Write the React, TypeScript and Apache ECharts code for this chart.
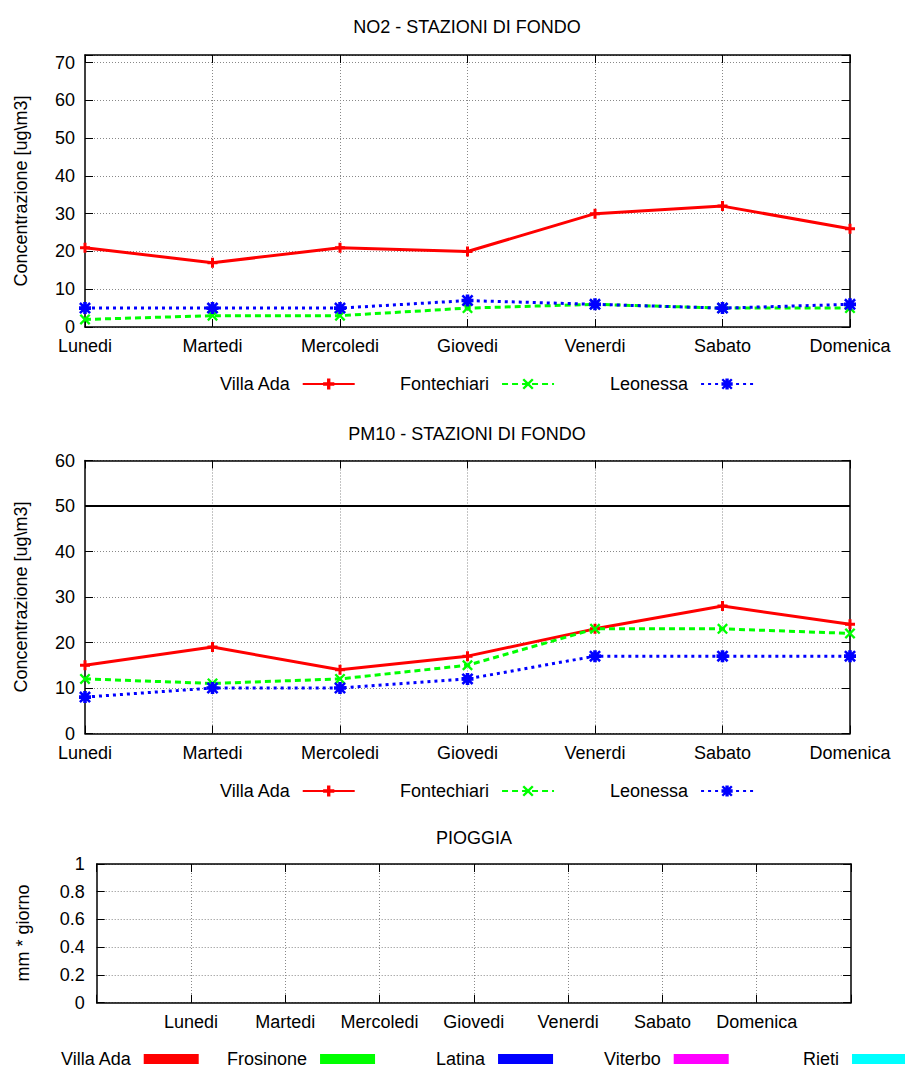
import React, { useEffect, useRef } from "react";
import * as echarts from "echarts";

const days = ["Lunedi", "Martedi", "Mercoledi", "Giovedi", "Venerdi", "Sabato", "Domenica"];

const no2VillaAda = [21, 17, 21, 20, 30, 32, 26];
const no2Fontechiari = [2, 3, 3, 5, 6, 5, 5];
const no2Leonessa = [5, 5, 5, 7, 6, 5, 6];

const pm10VillaAda = [15, 19, 14, 17, 23, 28, 24];
const pm10Fontechiari = [12, 11, 12, 15, 23, 23, 22];
const pm10Leonessa = [8, 10, 10, 12, 17, 17, 17];
const pm10Limit = 50;

const rainStations = ["Villa Ada", "Frosinone", "Latina", "Viterbo", "Rieti"];
const rainColors = ["#ff0000", "#00ff00", "#0000ff", "#ff00ff", "#00ffff"];
const rainValues = [
  [0, 0, 0, 0, 0, 0, 0],
  [0, 0, 0, 0, 0, 0, 0],
  [0, 0, 0, 0, 0, 0, 0],
  [0, 0, 0, 0, 0, 0, 0],
  [0, 0, 0, 0, 0, 0, 0],
];
const rainDays = ["", ...days, ""];

const FONT = '"Liberation Sans", Arial, Helvetica, sans-serif';
const FS = 18;

const PLUS = "path://M3.5,0H6.5V3.5H10V6.5H6.5V10H3.5V6.5H0V3.5H3.5Z";
const CROSS = "path://M0,1.5L1.5,0L5,3.5L8.5,0L10,1.5L6.5,5L10,8.5L8.5,10L5,6.5L1.5,10L0,8.5L3.5,5Z";
const STAR =
  "path://M3.5,0H6.5V3.5H10V6.5H6.5V10H3.5V6.5H0V3.5H3.5Z M0,1.5L1.5,0L5,3.5L8.5,0L10,1.5L6.5,5L10,8.5L8.5,10L5,6.5L1.5,10L0,8.5L3.5,5Z";

const lineDefs = [
  { name: "Villa Ada", color: "#ff0000", type: "solid" as any, symbol: PLUS, size: 10 },
  { name: "Fontechiari", color: "#00ff00", type: [6, 4] as any, symbol: CROSS, size: 11 },
  { name: "Leonessa", color: "#0000ff", type: [3, 4] as any, symbol: STAR, size: 12 },
];

export default function App() {
  const ref = useRef<HTMLDivElement>(null);

  useEffect(() => {
    document.body.style.margin = "0";
    const chart = echarts.init(ref.current!, null, { renderer: "svg" });

    const grids = [
      { left: 85, top: 55, width: 765, height: 272 },
      { left: 85, top: 460.5, width: 765, height: 273 },
      { left: 96.7, top: 864, width: 754.3, height: 138.7 },
    ];

    const splitDotted = { show: true, lineStyle: { color: "#888", width: 1, type: [1, 2] as any } };
    const tickIn = { show: true, inside: true, length: 8, lineStyle: { color: "#000", width: 1 } };
    const border = { show: true, onZero: false, lineStyle: { color: "#000", width: 1.5 } };
    const labelStyle = { color: "#000", fontSize: FS, fontFamily: FONT };

    const xCats = [days, days, rainDays];
    const xAxis: any[] = [];
    xCats.forEach((cats, gi) => {
      const last = cats.length - 1;
      xAxis.push({
        type: "category",
        gridIndex: gi,
        data: cats,
        boundaryGap: false,
        position: "bottom",
        z: 2,
        axisLine: border,
        axisTick: { ...tickIn, interval: 0 },
        axisLabel: { ...labelStyle, margin: 10, interval: 0 },
        splitLine: { ...splitDotted, interval: (i: number) => i !== 0 && i !== last },
      });
      xAxis.push({
        type: "category",
        gridIndex: gi,
        data: cats,
        boundaryGap: false,
        position: "top",
        z: 2,
        axisLine: border,
        axisTick: { ...tickIn, interval: 0 },
        axisLabel: { show: false },
        splitLine: { show: false },
      });
    });

    const yRanges = [
      { min: 0, max: 72, interval: 10, margin: 10, fmt: (v: number) => (v % 10 === 0 ? String(v) : "") },
      { min: 0, max: 60, interval: 10, margin: 10, fmt: (v: number) => String(v) },
      { min: 0, max: 1, interval: 0.2, margin: 12, fmt: (v: number) => String(Math.round(v * 10) / 10) },
    ];
    const yAxis: any[] = [];
    yRanges.forEach((r, gi) => {
      yAxis.push({
        type: "value",
        gridIndex: gi,
        min: r.min,
        max: r.max,
        interval: r.interval,
        position: "left",
        z: 1,
        axisLine: border,
        axisTick: tickIn,
        axisLabel: { ...labelStyle, margin: r.margin, formatter: r.fmt },
        splitLine: splitDotted,
      });
      yAxis.push({
        type: "value",
        gridIndex: gi,
        min: r.min,
        max: r.max,
        interval: r.interval,
        position: "right",
        z: 1,
        axisLine: border,
        axisTick: tickIn,
        axisLabel: { show: false },
        splitLine: { show: false },
      });
    });

    const mkLine = (def: any, data: number[], xi: number, yi: number, extra: any = {}) => ({
      type: "line",
      name: def.name,
      xAxisIndex: xi,
      yAxisIndex: yi,
      data,
      z: 5,
      symbol: def.symbol,
      symbolSize: def.size,
      showSymbol: true,
      lineStyle: { color: def.color, width: 3, type: def.type },
      itemStyle: { color: def.color },
      ...extra,
    });

    const series: any[] = [
      mkLine(lineDefs[0], no2VillaAda, 0, 0),
      mkLine(lineDefs[1], no2Fontechiari, 0, 0),
      mkLine(lineDefs[2], no2Leonessa, 0, 0),
      mkLine(lineDefs[0], pm10VillaAda, 2, 2, {
        markLine: {
          silent: true,
          symbol: "none",
          label: { show: false },
          lineStyle: { color: "#000", width: 2, type: "solid" },
          data: [{ yAxis: pm10Limit }],
        },
      }),
      mkLine(lineDefs[1], pm10Fontechiari, 2, 2),
      mkLine(lineDefs[2], pm10Leonessa, 2, 2),
      ...rainStations.map((s, i) => ({
        type: "bar",
        name: s,
        xAxisIndex: 4,
        yAxisIndex: 4,
        data: [null, ...rainValues[i], null],
        itemStyle: { color: rainColors[i] },
        z: 5,
      })),
    ];

    const legendText = { ...labelStyle, padding: [0, 8, 0, 0] };
    const legends: any[] = [];
    const lineLegendLefts = [214, 395, 605];
    [370, 777].forEach((top) => {
      lineDefs.forEach((d, i) => {
        legends.push({
          data: [d.name],
          left: lineLegendLefts[i],
          top,
          align: "right",
          itemWidth: 52,
          itemHeight: 14,
          selectedMode: false,
          textStyle: legendText,
        });
      });
    });
    const rainLegendLefts = [55, 222, 431, 599, 798];
    rainStations.forEach((s, i) => {
      legends.push({
        data: [
          {
            name: s,
            icon: "rect",
            itemStyle: { color: rainColors[i], borderWidth: 0 },
          },
        ],
        left: rainLegendLefts[i],
        top: 1045,
        align: "right",
        itemWidth: 55,
        itemHeight: 10,
        selectedMode: false,
        textStyle: legendText,
      });
    });

    const txt = (text: string, x: number, y: number, rot = 0) => ({
      type: "text",
      x,
      y,
      rotation: rot,
      silent: true,
      style: {
        text,
        align: "center",
        verticalAlign: "middle",
        fill: "#000",
        fontSize: FS,
        fontFamily: FONT,
      },
    });

    chart.setOption({
      animation: false,
      backgroundColor: "#fff",
      grid: grids,
      xAxis,
      yAxis,
      series,
      legend: legends,
      graphic: [
        txt("NO2 - STAZIONI DI FONDO", 467, 27),
        txt("PM10 - STAZIONI DI FONDO", 467, 434),
        txt("PIOGGIA", 474, 838),
        txt("Concentrazione [ug\\m3]", 21, 191, Math.PI / 2),
        txt("Concentrazione [ug\\m3]", 21, 597, Math.PI / 2),
        txt("mm * giorno", 23, 933, Math.PI / 2),
      ],
    });

    return () => chart.dispose();
  }, []);

  return <div ref={ref} style={{ width: 905, height: 1068 }} />;
}
